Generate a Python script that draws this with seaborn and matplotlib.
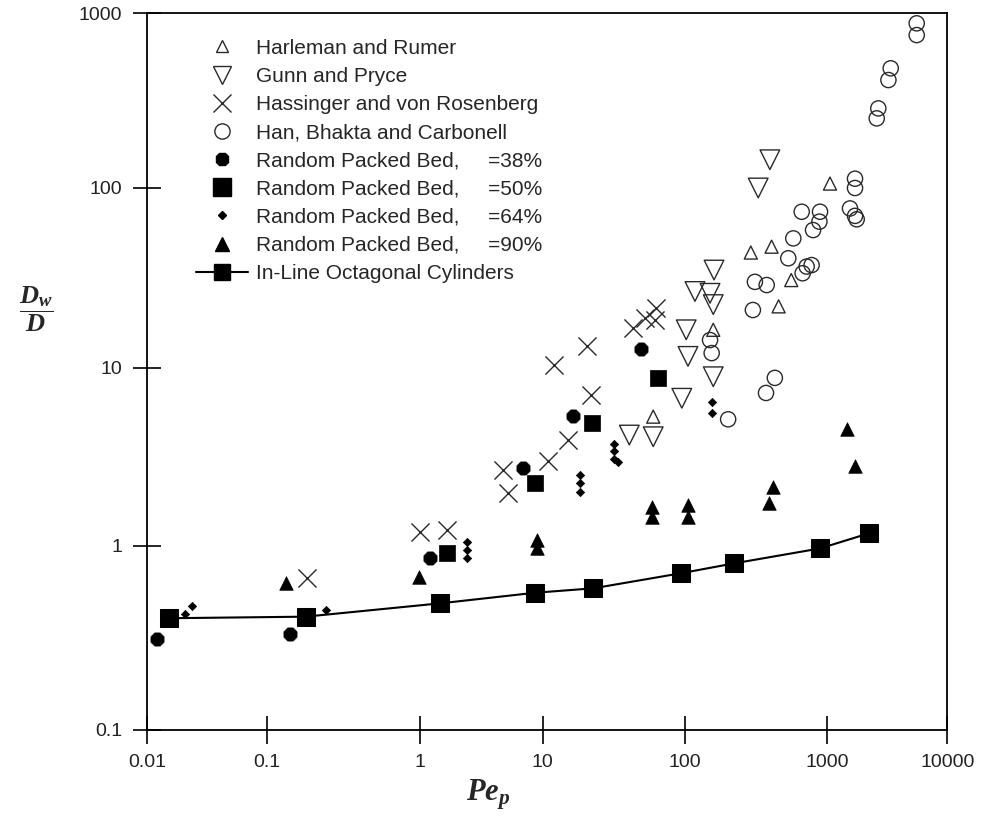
import numpy as np
import matplotlib
matplotlib.use("Agg")
import matplotlib.pyplot as plt
import seaborn as sns
from matplotlib.ticker import FixedLocator, FixedFormatter, NullLocator
from matplotlib.lines import Line2D

# ---------------- data ----------------
harleman_x = [1053, 290, 406, 558, 455, 59.8, 158]
harleman_y = [106, 43.8, 47.2, 30.8, 22.0, 5.33, 16.3]

gunn_x = [395, 327, 160, 117.5, 150, 158, 102, 105, 95, 158, 40.6, 59.8]
gunn_y = [145, 100, 35, 26.6, 26, 22.5, 16.3, 11.6, 6.76, 8.93, 4.2, 4.11]

hass_x = [0.181, 1.0, 1.65, 4.77, 5.24, 10.9, 15.1, 12, 20.4, 21.7, 42.8, 52.4, 61.5, 62.5]
hass_y = [0.667, 1.2, 1.23, 2.67, 1.99, 3.02, 3.94, 10.4, 13.2, 7.05, 16.6, 18.9, 18.5, 21.5]

han_x = [5560, 5560, 3377, 3230, 2661, 2582, 1702, 1702, 1546, 1702, 1758,
         661, 889, 880, 794, 577, 532, 716, 776, 671, 310, 375, 300, 150, 154,
         201, 371, 428]
han_y = [873, 748, 483, 414, 285, 250, 113, 100, 77, 70, 67,
         73.8, 73.8, 65, 58.4, 52.5, 40.7, 36.6, 37.3, 33.6, 30.1, 28.9, 21, 14.3, 12.1,
         5.15, 7.24, 8.8]

rpb38_x = [0.0121, 0.141, 1.21, 6.87, 16.3, 49.1]
rpb38_y = [0.311, 0.331, 0.857, 2.75, 5.4, 12.7]

rpb50_x = [1.65, 8.65, 22.1, 64.3]
rpb50_y = [0.913, 2.27, 4.93, 8.75]

rpb64_x = [0.0206, 0.0234, 0.242, 2.4, 2.4, 2.4, 18.3, 18.3, 18.3, 31.5, 31.5, 31.5, 34, 154, 154]
rpb64_y = [0.427, 0.472, 0.449, 1.05, 0.95, 0.86, 2.5, 2.25, 2.0, 3.75, 3.4, 3.1, 2.95, 6.47, 5.56]

rpb90_x = [0.132, 0.99, 8.9, 8.9, 58.9, 58.9, 105, 105, 413, 391, 1452, 1702]
rpb90_y = [0.632, 0.68, 1.08, 0.97, 1.66, 1.46, 1.7, 1.46, 2.14, 1.74, 4.52, 2.81]

octa_x = [0.0152, 0.178, 1.46, 8.65, 22.7, 93.7, 222, 889, 2240]
octa_y = [0.405, 0.413, 0.488, 0.557, 0.589, 0.711, 0.805, 0.97, 1.18]

x_ticks = [0.01, 0.1, 1, 10, 100, 1000, 10000]
x_ticklabels = ["0.01", "0.1", "1", "10", "100", "1000", "10000"]
y_ticks = [0.1, 1, 10, 100, 1000]
y_ticklabels = ["0.1", "1", "10", "100", "1000"]

labels = ["Harleman and Rumer", "Gunn and Pryce", "Hassinger and von Rosenberg",
          "Han, Bhakta and Carbonell",
          "Random Packed Bed,     =38%", "Random Packed Bed,     =50%",
          "Random Packed Bed,     =64%", "Random Packed Bed,     =90%",
          "In-Line Octagonal Cylinders"]

# ---------------- style ----------------
sns.set_theme(style="white")
plt.rcParams["font.family"] = ["Liberation Sans", "DejaVu Sans"]
plt.rcParams["mathtext.fontset"] = "custom"
plt.rcParams["mathtext.it"] = "Liberation Serif:italic:bold"
plt.rcParams["mathtext.rm"] = "Liberation Serif:bold"
plt.rcParams["mathtext.bf"] = "Liberation Serif:bold"

fig = plt.figure(figsize=(9.83, 8.16), dpi=100)
ax = fig.add_axes([147.3 / 983, 1 - 730 / 816, 800 / 983, 717 / 816])


def _pw(v, xp, fp):
    v = np.asarray(v, dtype=float)
    xp = np.asarray(xp, float)
    fp = np.asarray(fp, float)
    out = np.interp(v, xp, fp)
    lo = v < xp[0]
    hi = v > xp[-1]
    out = np.where(lo, fp[0] + (v - xp[0]) * (fp[1] - fp[0]) / (xp[1] - xp[0]), out)
    out = np.where(hi, fp[-1] + (v - xp[-1]) * (fp[-1] - fp[-2]) / (xp[-1] - xp[-2]), out)
    return out


def make_scale(decades, fracs):
    def fwd(v):
        v = np.asarray(v, dtype=float)
        with np.errstate(divide="ignore", invalid="ignore"):
            lv = np.log10(np.where(v > 0, v, 1e-300))
        return _pw(lv, decades, fracs)

    def inv(f):
        return 10.0 ** _pw(f, fracs, decades)
    return fwd, inv


# the printed axes are slightly uneven log decades
x_dec = [-2, -1, 0, 1, 2, 3, 4]
x_frac = [0.0, 0.150, 0.341, 0.4943, 0.6721, 0.850, 1.0]
y_dec = [-1, 0, 1, 2, 3]
y_frac = [0.0, 184 / 717, 362 / 717, 542 / 717, 1.0]

ax.set_xscale("function", functions=make_scale(x_dec, x_frac))
ax.set_yscale("function", functions=make_scale(y_dec, y_frac))

ec = "#2a2a2a"
sns.scatterplot(x=harleman_x, y=harleman_y, marker="^", s=88, facecolor="none",
                edgecolor=ec, color=ec, linewidth=1.0, ax=ax, zorder=3)
sns.scatterplot(x=gunn_x, y=gunn_y, marker="v", s=200, facecolor="none",
                edgecolor=ec, color=ec, linewidth=1.0, ax=ax, zorder=3)
sns.scatterplot(x=hass_x, y=hass_y, marker="x", s=170, color=ec,
                linewidth=1.0, ax=ax, zorder=3)
sns.scatterplot(x=han_x, y=han_y, marker="o", s=120, facecolor="none",
                edgecolor=ec, color=ec, linewidth=1.0, ax=ax, zorder=3)
sns.scatterplot(x=rpb38_x, y=rpb38_y, marker="8", s=105, color="black",
                edgecolor="black", linewidth=0.5, ax=ax, zorder=3)
sns.scatterplot(x=rpb50_x, y=rpb50_y, marker="s", s=125, color="black",
                edgecolor="black", linewidth=0.5, ax=ax, zorder=3)
sns.scatterplot(x=rpb64_x, y=rpb64_y, marker="D", s=18, color="black",
                edgecolor="black", linewidth=0.5, ax=ax, zorder=3)
sns.scatterplot(x=rpb90_x, y=rpb90_y, marker="^", s=95, color="black",
                edgecolor="black", linewidth=0.5, ax=ax, zorder=3)
sns.lineplot(x=octa_x, y=octa_y, marker="s", markersize=13.5, color="black",
             markeredgecolor="black", linewidth=1.5, estimator=None, sort=False,
             ax=ax, zorder=4)

ax.set_xlim(0.01, 10000)
ax.set_ylim(0.1, 1000)
ax.xaxis.set_major_locator(FixedLocator(x_ticks))
ax.xaxis.set_major_formatter(FixedFormatter(x_ticklabels))
ax.xaxis.set_minor_locator(NullLocator())
ax.yaxis.set_major_locator(FixedLocator(y_ticks))
ax.yaxis.set_major_formatter(FixedFormatter(y_ticklabels))
ax.yaxis.set_minor_locator(NullLocator())

ax.tick_params(axis="both", which="major", direction="inout", length=20, width=1.2,
               color="black", labelsize=14, labelcolor="#222222",
               bottom=True, left=True, top=False, right=False)
ax.tick_params(axis="x", pad=7)
ax.tick_params(axis="y", pad=8)
for sp in ax.spines.values():
    sp.set_color("black")
    sp.set_linewidth(1.3)
ax.grid(False)

handles = [
    Line2D([], [], ls="none", marker="^", ms=9, mfc="none", mec=ec, mew=1.0),
    Line2D([], [], ls="none", marker="v", ms=13, mfc="none", mec=ec, mew=1.0),
    Line2D([], [], ls="none", marker="x", ms=13, color=ec, mew=1.0),
    Line2D([], [], ls="none", marker="o", ms=11, mfc="none", mec=ec, mew=1.0),
    Line2D([], [], ls="none", marker="8", ms=10, color="black"),
    Line2D([], [], ls="none", marker="s", ms=13, color="black"),
    Line2D([], [], ls="none", marker="D", ms=4.5, color="black"),
    Line2D([], [], ls="none", marker="^", ms=10, color="black"),
    Line2D([], [], ls="-", lw=1.5, marker="s", ms=11, color="black"),
]
ax.legend(handles=handles, labels=labels, loc="upper left",
          bbox_to_anchor=((195.7 - 147.3) / 800, (730 - 38.7) / 717),
          frameon=False, fontsize=15, handlelength=2.5, handletextpad=0.4,
          labelspacing=0.44, borderpad=0, borderaxespad=0)

ax.set_xlabel("")
ax.set_ylabel("")
fig.text(488 / 983, 1 - 795 / 816, r"$Pe_p$", fontsize=22, ha="center", va="center")
fig.text(36 / 983, 1 - 309 / 816, r"$\dfrac{D_w}{D}$", fontsize=19, ha="center", va="center")

fig.savefig("out.png", dpi=100, facecolor="white")
